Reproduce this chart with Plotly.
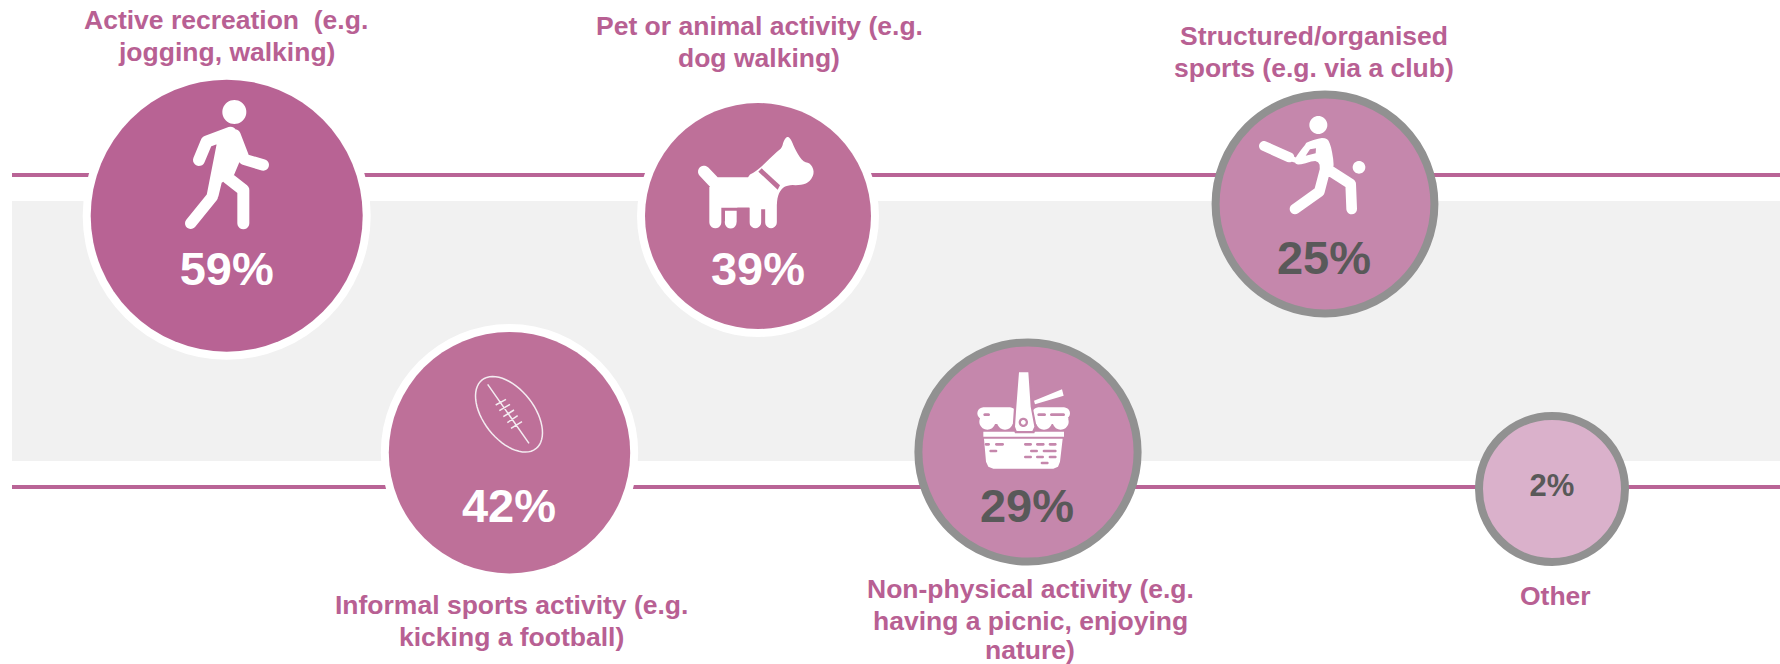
import math
import plotly.graph_objects as go

# ---------- data ----------
categories = [
    "Active recreation  (e.g.<br>jogging, walking)",
    "Informal sports activity (e.g.<br>kicking a football)",
    "Pet or animal activity (e.g.<br>dog walking)",
    "Non-physical activity (e.g.<br>having a picnic, enjoying<br>nature)",
    "Structured/organised<br>sports (e.g. via a club)",
    "Other",
]
values = [59, 42, 39, 29, 25, 2]

# ---------- layout of the infographic (pixels) ----------
cx = [226.7, 509.5, 758, 1028, 1325, 1552]
cy = [215.7, 452.7, 216, 452, 204, 489]
fill_radius = [136, 120.7, 113, 105.6, 105.4, 69]
ring = [0, 0, 0, 8, 8, 8]
halo = [8, 8, 8, 0, 0, 0]
fills = ["#B86394", "#BE7099", "#BE7099", "#C587AC", "#C587AC", "#DAB1CB"]
value_x = [226.7, 509, 758, 1027, 1324, 1552]
value_y = [273, 510, 273, 510, 262, 488]
value_size = [47, 47, 47, 47, 47, 31]
value_colors = ["#FFFFFF", "#FFFFFF", "#FFFFFF", "#595959", "#595959", "#595959"]
label_x = [226, 511, 759, 1030, 1314, 1555]
label_first_y = [20, 605, 26, 589, 36, 596]
label_step = 32
LABEL = "#B86093"
LINE = "#B96496"
BAND = "#F1F1F1"
WHITE = "#FFFFFF"
GREY = "#919191"
FONT = "Liberation Sans, Arial, sans-serif"

shapes = [
    dict(type="rect", x0=12, x1=1780, y0=201, y1=461, fillcolor=BAND, line_width=0, layer="below"),
    dict(type="line", x0=12, x1=1780, y0=175, y1=175, line=dict(color=LINE, width=4), layer="below"),
    dict(type="line", x0=12, x1=1780, y0=487, y1=487, line=dict(color=LINE, width=4), layer="below"),
]

# ---------- icon helpers ----------
def pts2path(pts):
    return "M" + "L".join(f"{x:.2f},{y:.2f}" for x, y in pts) + "Z"

def circle(c, r, n=40):
    return pts2path([(c[0] + r * math.cos(2 * math.pi * i / n), c[1] + r * math.sin(2 * math.pi * i / n)) for i in range(n)])

def chaikin(pts, n=2):
    for _ in range(n):
        out = []
        for i, p in enumerate(pts):
            q = pts[(i + 1) % len(pts)]
            out.append((0.75 * p[0] + 0.25 * q[0], 0.75 * p[1] + 0.25 * q[1]))
            out.append((0.25 * p[0] + 0.75 * q[0], 0.25 * p[1] + 0.75 * q[1]))
        pts = out
    return pts

def poly(pts):
    area = sum(pts[i][0] * pts[(i + 1) % len(pts)][1] - pts[(i + 1) % len(pts)][0] * pts[i][1] for i in range(len(pts)))
    return pts2path(pts if area > 0 else pts[::-1])

def capsule(p, q, w, n=10):
    a = math.atan2(q[1] - p[1], q[0] - p[0])
    out = []
    for i in range(n + 1):
        t = a - math.pi / 2 + math.pi * i / n
        out.append((q[0] + w / 2 * math.cos(t), q[1] + w / 2 * math.sin(t)))
    for i in range(n + 1):
        t = a + math.pi / 2 + math.pi * i / n
        out.append((p[0] + w / 2 * math.cos(t), p[1] + w / 2 * math.sin(t)))
    return pts2path(out)

def stroke(points, w):
    return [capsule(points[i], points[i + 1], w) for i in range(len(points) - 1)]

def icon(ox, oy):
    """Coordinates are read in 3x zoomed crops with origin (ox, oy)."""
    T = lambda p: (ox + p[0] / 3, oy + p[1] / 3)
    class I:
        @staticmethod
        def c(p, r): return circle(T(p), r / 3)
        @staticmethod
        def p(*ps): return poly([T(q) for q in ps])
        @staticmethod
        def r(*ps): return poly(chaikin([T(q) for q in ps]))
        @staticmethod
        def s(ps, w): return stroke([T(q) for q in ps], w / 3)
    return I

def add(paths, color=WHITE):
    if isinstance(paths, str):
        paths = [paths]
    shapes.append(dict(type="path", path=" ".join(paths), fillcolor=color, fillrule="nonzero", line_width=0, layer="above"))

def add_line(paths, width, color=WHITE):
    shapes.append(dict(type="path", path=" ".join(paths), line=dict(color=color, width=width), layer="above"))

# walker
I = icon(60, 0)
add([I.c((523, 336), 36)]
    + I.s([(417, 480), (440, 425), (512, 398)], 36)
    + I.s([(525, 405), (553, 478), (610, 495)], 34)
    + [I.p((470, 432), (512, 382), (540, 400), (545, 470), (522, 525), (485, 548), (475, 590), (440, 585))]
    + I.s([(457, 590), (392, 670)], 34)
    + I.s([(503, 533), (550, 570), (550, 670)], 36))

# dog
I = icon(620, 90)
add(I.s([(252, 245), (290, 285)], 36)
    + [I.p((268, 262), (385, 262), (430, 353), (268, 353))]
    + [I.r((375, 262), (415, 240), (470, 185), (485, 175), (492, 150), (503, 138), (514, 150), (525, 178), (548, 215),
           (572, 220), (584, 248), (568, 277), (540, 286), (505, 285), (485, 295), (472, 320), (470, 358), (375, 358))]
    + I.s([(286, 340), (286, 397)], 36)
    + I.s([(406, 340), (406, 397)], 35)
    + I.s([(453, 340), (453, 397)], 35)
    + [I.p((315, 362), (350, 362), (350, 397), (315, 397))]
    + I.s([(332, 395), (332, 398)], 35))
add([I.p((425, 235), (480, 286), (473, 299), (415, 245))], fills[2])
add([I.p((352, 353), (388, 353), (388, 415), (352, 415))], fills[2])

# cricketer
I = icon(1190, 80)
add([I.c((385, 135), 27), I.c((507, 262), 19)]
    + I.s([(222, 198), (298, 232)], 30)
    + [I.p((300, 226), (320, 233), (316, 248), (296, 242))]
    + [I.r((350, 186), (405, 170), (422, 190), (434, 265), (418, 290), (390, 285), (388, 236), (322, 258), (310, 240), (345, 195))]
    + I.s([(405, 270), (388, 335), (315, 387)], 32)
    + I.s([(420, 272), (482, 312), (485, 387)], 32))
add([I.p((347, 227), (360, 208), (378, 205), (377, 220))], fills[4])

# rugby ball
a = math.radians(52)
ball = []
for k in range(61):
    t = 2 * math.pi * k / 60
    u, v = 131 * math.cos(t), 76 * math.sin(t)
    ball.append((417 + u * math.cos(a) - v * math.sin(a), 283 + u * math.sin(a) + v * math.cos(a)))
T = lambda p: (370 + p[0] / 3, 320 + p[1] / 3)
ball_path = "M" + "L".join(f"{x:.2f},{y:.2f}" for x, y in map(T, ball)) + "Z"
seams = [((353, 193), (477, 370)), ((377, 255), (408, 238)), ((388, 272), (420, 253)), ((400, 290), (432, 270)),
         ((412, 308), (443, 287)), ((423, 325), (456, 305))]
seam_paths = ["M{:.2f},{:.2f}L{:.2f},{:.2f}".format(*T(p), *T(q)) for p, q in seams]
add_line([ball_path] + seam_paths, 1.5, "#F4ECF1")

# picnic basket
I = icon(900, 330)
pink = fills[3]
add(I.s([(250, 250), (330, 250)], 36)
    + I.s([(415, 250), (492, 250)], 36)
    + [I.p((240, 245), (345, 245), (345, 282), (240, 282)), I.p((405, 245), (505, 245), (505, 282), (405, 282))]
    + [I.c((262, 275), 24), I.c((315, 275), 24), I.c((432, 275), 24), I.c((482, 275), 24)]
    + [I.p((250, 305), (492, 305), (492, 320), (250, 320))]
    + [I.p((252, 326), (488, 326), (480, 395), (474, 410), (460, 416), (280, 416), (265, 410), (258, 395))])
add([I.p((352, 120), (390, 120), (398, 230), (410, 290), (403, 310), (345, 310), (338, 290), (342, 230))], pink)
add([I.p((357, 127), (385, 127), (392, 230), (403, 290), (397, 303), (350, 303), (345, 290), (349, 230))]
    + [I.p((402, 212), (486, 178), (491, 197), (405, 223))])
add([I.c((370, 277), 14)], pink)
add([I.c((370, 277), 7)])
dashes = [(250, 270, 254), (412, 438, 254), (450, 495, 254),
          (254, 270, 343), (285, 312, 343), (372, 396, 343), (408, 434, 343), (446, 470, 343),
          (268, 292, 363), (390, 414, 363), (428, 470, 363),
          (372, 396, 381), (408, 432, 381), (446, 470, 381), (422, 446, 399)]
dash_paths = []
for x0, x1, y in dashes:
    dash_paths += I.s([(x0 + 4, y), (x1 - 4, y)], 8)
add(dash_paths, pink)

# ---------- figure ----------
fig = go.Figure()
halo_idx = [i for i, h in enumerate(halo) if h]
fig.add_trace(go.Scatter(
    x=[cx[i] for i in halo_idx], y=[cy[i] for i in halo_idx], mode="markers",
    marker=dict(size=[2 * (fill_radius[i] + halo[i]) for i in halo_idx], color=WHITE, opacity=1, line_width=0),
    hoverinfo="skip", showlegend=False))
fig.add_trace(go.Scatter(
    x=cx, y=cy, mode="markers",
    marker=dict(size=[2 * (fill_radius[i] + ring[i] / 2) for i in range(6)],
                color=fills, opacity=1,
                line=dict(color=GREY, width=ring)),
    hoverinfo="skip", showlegend=False))
fig.add_trace(go.Scatter(
    x=value_x, y=value_y, mode="text", text=[f"{v}%" for v in values], textposition="middle center",
    textfont=dict(family=FONT, size=value_size, color=value_colors, weight="bold"),
    hoverinfo="skip", showlegend=False))

annotations = []
for t, x, y0 in zip(categories, label_x, label_first_y):
    for k, line in enumerate(t.split("<br>")):
        annotations.append(dict(x=x, y=min(y0 + k * label_step, 650), xref="x", yref="y", text=f"<b>{line}</b>",
                                showarrow=False, align="center", xanchor="center", yanchor="middle",
                                font=dict(family=FONT, size=26.5, color=LABEL)))

fig.update_layout(
    width=1780, height=664, margin=dict(l=0, r=0, t=0, b=0), autosize=False,
    paper_bgcolor=WHITE, plot_bgcolor=WHITE, shapes=shapes, annotations=annotations,
    xaxis=dict(range=[0, 1780], visible=False, fixedrange=True),
    yaxis=dict(range=[664, 0], visible=False, fixedrange=True),
)
fig.write_html("out.html", config=dict(displayModeBar=False),
               post_script="document.body.style.margin='0';document.body.style.overflow='hidden';")
